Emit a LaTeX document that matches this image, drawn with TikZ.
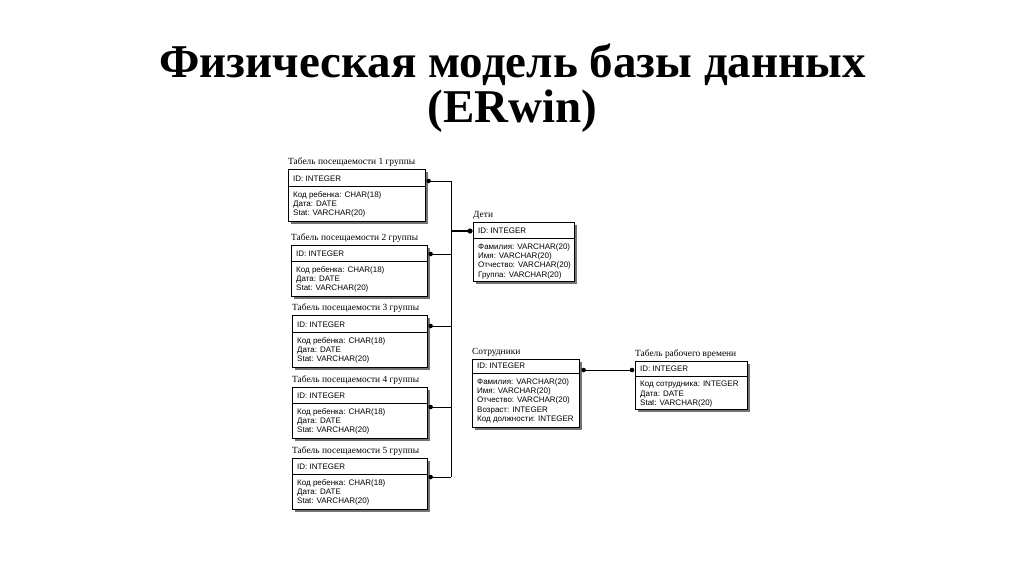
\documentclass[tikz,border=0pt]{standalone}
\usepackage{fontspec}
\setmainfont{Liberation Serif}
\newfontfamily\attrfont{Liberation Sans}
\usetikzlibrary{calc,shadows}
\tikzset{
  erbox/.style={draw=black, line width=0.6pt, fill=white, anchor=north west, inner sep=0pt,
    drop shadow={shadow xshift=2.5pt, shadow yshift=-2.5pt, fill=black!55, opacity=1}},
  ertitle/.style={anchor=base west, inner sep=0pt, font=\fontsize{9.4}{10}\selectfont},
  erid/.style={anchor=base west, inner sep=0pt, font=\attrfont\fontsize{8}{9}\selectfont},
  erattr/.style={anchor=north west, inner sep=0pt, align=left, font=\attrfont\fontsize{8}{9.4}\selectfont},
  conn/.style={line width=0.6pt},
  erdot/.style={fill=black},
}
% #1 name, #2 x, #3 y, #4 width, #5 height, #6 divider offset, #7 title, #8 attributes
\newcommand\ertable[8]{%
  \node[erbox, minimum width=#4pt, minimum height=#5pt] (#1) at (#2,#3) {};
  \draw[line width=0.6pt] ($(#1.north west)+(0,#6)$) -- ($(#1.north east)+(0,#6)$);
  \node[ertitle] (#1-t) at ($(#1.north west)+(0,-4.5)$) {#7};
  \node[erid] (#1-id) at ($(#1.north west)+(5,#6-4.5)$) {ID: INTEGER};
  \node[erattr] (#1-a) at ($(#1.north west)+(5,#6+5)$) {#8};
}
\begin{document}
\begin{tikzpicture}[x=1pt, y=-1pt]
\useasboundingbox (0,0) rectangle (1024,574);
\fill[white] (0,0) rectangle (1024,574);
\node[font=\bfseries\fontsize{47}{45}\selectfont, align=center, anchor=base] (title) at (512.5,122)
  {Физическая модель базы данных\\(ERwin)};

\ertable{g1}{288}{169}{137}{52}{17}{Табель посещаемости 1 группы}{Код ребенка: CHAR(18)\\Дата: DATE\\Stat: VARCHAR(20)}
\ertable{g2}{291}{245}{136}{51}{16}{Табель посещаемости 2 группы}{Код ребенка: CHAR(18)\\Дата: DATE\\Stat: VARCHAR(20)}
\ertable{g3}{292}{315}{135}{52}{17}{Табель посещаемости 3 группы}{Код ребенка: CHAR(18)\\Дата: DATE\\Stat: VARCHAR(20)}
\ertable{g4}{292}{387}{135}{51}{16}{Табель посещаемости 4 группы}{Код ребенка: CHAR(18)\\Дата: DATE\\Stat: VARCHAR(20)}
\ertable{g5}{292}{458}{135}{51}{16}{Табель посещаемости 5 группы}{Код ребенка: CHAR(18)\\Дата: DATE\\Stat: VARCHAR(20)}
\ertable{deti}{473}{222}{101}{59}{16}{Дети}{Фамилия: VARCHAR(20)\\Имя: VARCHAR(20)\\Отчество: VARCHAR(20)\\Группа: VARCHAR(20)}
\ertable{sotr}{472}{359}{107}{68}{14}{Сотрудники}{Фамилия: VARCHAR(20)\\Имя: VARCHAR(20)\\Отчество: VARCHAR(20)\\Возраст: INTEGER\\Код должности: INTEGER}
\ertable{trv}{635}{361}{112}{48}{15}{Табель рабочего времени}{Код сотрудника: INTEGER\\Дата: DATE\\Stat: VARCHAR(20)}

% connector points
\coordinate (c1) at ($(g1.north east)+(3,12)$);
\coordinate (c2) at ($(g2.north east)+(3,9)$);
\coordinate (c3) at ($(g3.north east)+(3,11)$);
\coordinate (c4) at ($(g4.north east)+(3,20)$);
\coordinate (c5) at ($(g5.north east)+(3,19)$);
\coordinate (trunk) at (451,231);
\coordinate (cd) at ($(deti.north west)+(-3,9)$);
\coordinate (cs) at ($(sotr.north east)+(4,11)$);
\coordinate (ct) at ($(trv.north west)+(-3,9)$);

\foreach \c in {c1,c2,c3,c4,c5}{
  \draw[conn] (\c) -- (\c -| trunk);
  \fill[erdot] (\c) circle (2.3);
}
\draw[conn] (c1 -| trunk) -- (c5 -| trunk);
\draw[line width=1.4pt] (trunk) -- (cd);
\fill[erdot] (cd) circle (2.6);
\draw[conn] (cs) -- (ct);
\fill[erdot] (cs) circle (2.3);
\fill[erdot] (ct) circle (2.3);
\end{tikzpicture}
\end{document}
